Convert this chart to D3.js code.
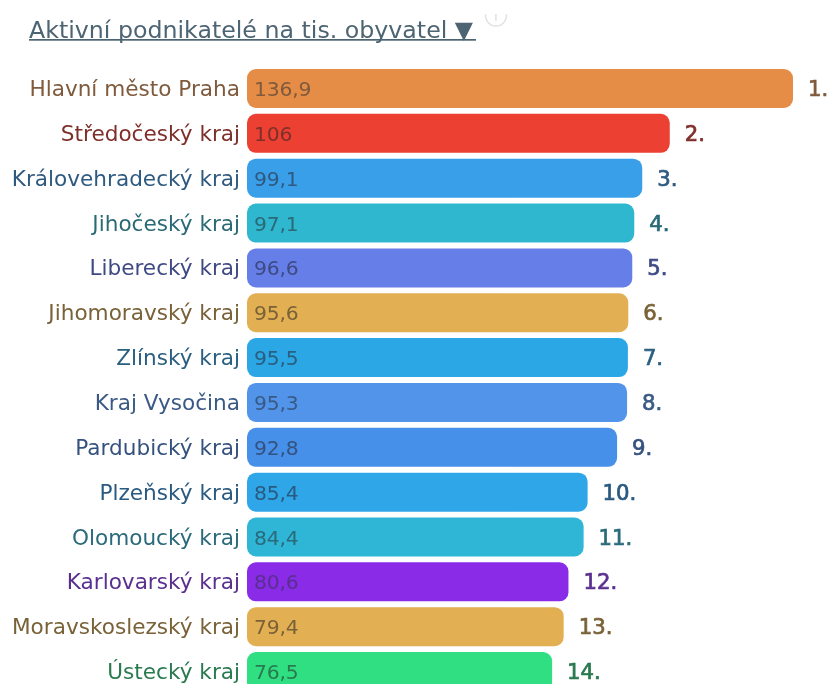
<!DOCTYPE html>
<html><head><meta charset="utf-8">
<script src="https://cdn.jsdelivr.net/npm/d3@7"></script>
<style>html,body{margin:0;padding:0;background:#fff;overflow:hidden}svg{display:block;font-family:"DejaVu Sans",sans-serif}</style>
</head><body><svg id="c" width="831" height="684"></svg>
<script>
const title = "Aktivní podnikatelé na tis. obyvatel ▼";
const regions = ["Hlavní město Praha","Středočeský kraj","Královehradecký kraj","Jihočeský kraj","Liberecký kraj","Jihomoravský kraj","Zlínský kraj","Kraj Vysočina","Pardubický kraj","Plzeňský kraj","Olomoucký kraj","Karlovarský kraj","Moravskoslezský kraj","Ústecký kraj"];
const values = [136.9,106,99.1,97.1,96.6,95.6,95.5,95.3,92.8,85.4,84.4,80.6,79.4,76.5];
const labels = ["136,9","106","99,1","97,1","96,6","95,6","95,5","95,3","92,8","85,4","84,4","80,6","79,4","76,5"];
const barColors = ["#e58c47","#ec4033","#3a9fe9","#2fb7d0","#667fe8","#e2b053","#2ba7e6","#5194ea","#4690ea","#2ea6e8","#2fb5d6","#8a2be8","#e2b053","#2fdf82"];
const textColors = ["#7f5a3c","#7f2f2a","#2f5a80","#2a6a76","#3f4a85","#7a6238","#2a5f80","#3a5a85","#35527f","#2a5a80","#2a6a7a","#5a2f8f","#7a6238","#2a7a50"];
const x = d3.scaleLinear().domain([0,136.9]).range([247,793]);
const step = 44.85, gap = 5.85;
const y = d3.scaleBand().domain(regions).range([69,69+step*regions.length-gap]).paddingInner(gap/step).paddingOuter(0);
const svg = d3.select("#c");
const root = svg.append("g").style("filter","blur(0.35px)");
root.append("circle").attr("cx",496).attr("cy",15.5).attr("r",10.5).attr("fill","#fff").attr("stroke","#e2e2e2").attr("stroke-width",1.3);
root.append("text").attr("x",496).attr("y",21).attr("text-anchor","middle").attr("font-size",12).attr("fill","#d8d8d8").text("i");
root.append("rect").attr("x",480).attr("y",0).attr("width",40).attr("height",14).attr("fill","#fff");
root.append("text").attr("x",29).attr("y",37.5).attr("font-size",23.7).attr("fill","#4d6473").text(title);
root.append("rect").attr("x",29).attr("y",39).attr("width",447).attr("height",1.7).attr("fill","#4d6473");
const g = root.append("g").selectAll("g").data(regions).join("g");
g.append("rect").attr("x",x(0)).attr("y",d=>y(d)).attr("height",y.bandwidth()).attr("rx",9).attr("ry",9)
  .attr("width",(d,i)=>x(values[i])-x(0)).attr("fill",(d,i)=>barColors[i]);
g.append("text").attr("x",240).attr("y",d=>y(d)+y.bandwidth()/2+7.5).attr("text-anchor","end").attr("font-size",21.6)
  .attr("fill",(d,i)=>textColors[i]).text(d=>d);
g.append("text").attr("x",254).attr("y",d=>y(d)+y.bandwidth()/2+7.5).attr("font-size",20.3).attr("letter-spacing",-0.15)
  .attr("fill",(d,i)=>textColors[i]).text((d,i)=>labels[i]);
g.append("text").attr("x",(d,i)=>x(values[i])+15).attr("y",d=>y(d)+y.bandwidth()/2+7.5).attr("font-size",21.2)
  .attr("stroke-width",0.7).attr("stroke",(d,i)=>textColors[i])
  .attr("fill",(d,i)=>textColors[i]).text((d,i)=>(i+1)+".");
</script></body></html>
